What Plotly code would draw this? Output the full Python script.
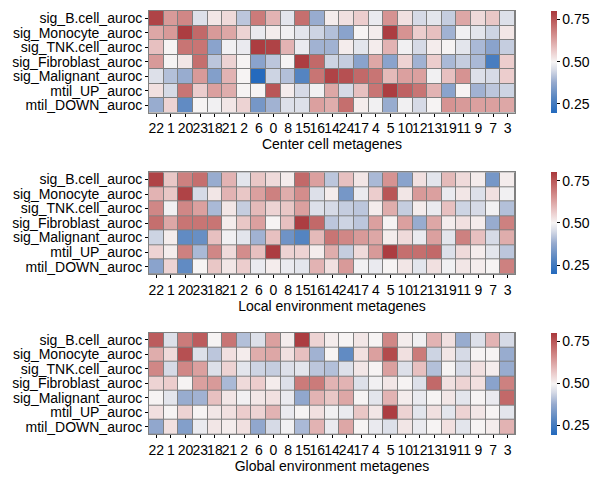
import plotly.graph_objects as go

columns = ["22", "1", "20", "23", "18", "21", "2", "6", "0", "8", "15", "16", "14",
           "24", "17", "4", "5", "10", "12", "13", "19", "11", "9", "7", "3"]
rows = ["sig_B.cell_auroc", "sig_Monocyte_auroc", "sig_TNK.cell_auroc",
        "sig_Fibroblast_auroc", "sig_Malignant_auroc", "mtil_UP_auroc", "mtil_DOWN_auroc"]
panel_titles = ["Center cell metagenes", "Local environment metagenes", "Global environment metagenes"]

center_values = [
    [0.78, 0.64, 0.67, 0.46, 0.52, 0.54, 0.42, 0.69, 0.60, 0.47, 0.71, 0.38, 0.51, 0.53, 0.56, 0.48, 0.65, 0.53, 0.45, 0.47, 0.43, 0.62, 0.54, 0.57, 0.46],
    [0.62, 0.64, 0.79, 0.72, 0.64, 0.62, 0.55, 0.48, 0.51, 0.49, 0.47, 0.44, 0.41, 0.36, 0.50, 0.51, 0.79, 0.65, 0.56, 0.58, 0.39, 0.49, 0.47, 0.44, 0.52],
    [0.58, 0.50, 0.70, 0.70, 0.36, 0.49, 0.48, 0.79, 0.78, 0.60, 0.48, 0.39, 0.39, 0.51, 0.47, 0.51, 0.60, 0.49, 0.45, 0.51, 0.50, 0.47, 0.40, 0.36, 0.43],
    [0.64, 0.50, 0.52, 0.71, 0.42, 0.55, 0.50, 0.36, 0.42, 0.50, 0.79, 0.72, 0.44, 0.43, 0.36, 0.62, 0.36, 0.55, 0.39, 0.56, 0.40, 0.43, 0.40, 0.26, 0.56],
    [0.46, 0.41, 0.38, 0.64, 0.35, 0.60, 0.50, 0.20, 0.44, 0.41, 0.28, 0.70, 0.78, 0.76, 0.72, 0.70, 0.59, 0.63, 0.63, 0.49, 0.58, 0.65, 0.46, 0.45, 0.56],
    [0.53, 0.45, 0.70, 0.56, 0.63, 0.61, 0.50, 0.50, 0.75, 0.51, 0.45, 0.49, 0.62, 0.45, 0.58, 0.70, 0.79, 0.73, 0.70, 0.60, 0.36, 0.50, 0.39, 0.42, 0.44],
    [0.38, 0.55, 0.30, 0.50, 0.49, 0.52, 0.55, 0.33, 0.39, 0.46, 0.46, 0.63, 0.61, 0.71, 0.51, 0.49, 0.38, 0.49, 0.45, 0.50, 0.65, 0.64, 0.63, 0.63, 0.62],
]

local_values = [
    [0.78, 0.57, 0.68, 0.71, 0.38, 0.60, 0.47, 0.57, 0.54, 0.51, 0.72, 0.63, 0.42, 0.58, 0.52, 0.40, 0.65, 0.36, 0.53, 0.47, 0.59, 0.54, 0.51, 0.33, 0.51],
    [0.60, 0.57, 0.78, 0.45, 0.52, 0.60, 0.57, 0.63, 0.68, 0.61, 0.66, 0.46, 0.51, 0.33, 0.48, 0.56, 0.75, 0.52, 0.64, 0.63, 0.48, 0.52, 0.46, 0.53, 0.49],
    [0.67, 0.49, 0.67, 0.63, 0.40, 0.52, 0.43, 0.59, 0.55, 0.57, 0.63, 0.46, 0.45, 0.43, 0.42, 0.51, 0.61, 0.43, 0.51, 0.48, 0.58, 0.44, 0.45, 0.49, 0.41],
    [0.71, 0.62, 0.70, 0.70, 0.70, 0.51, 0.57, 0.63, 0.50, 0.58, 0.79, 0.72, 0.42, 0.44, 0.42, 0.63, 0.50, 0.63, 0.38, 0.62, 0.51, 0.53, 0.51, 0.38, 0.68],
    [0.44, 0.51, 0.30, 0.31, 0.58, 0.49, 0.47, 0.39, 0.58, 0.32, 0.28, 0.59, 0.70, 0.67, 0.64, 0.62, 0.51, 0.54, 0.48, 0.63, 0.47, 0.68, 0.58, 0.45, 0.61],
    [0.55, 0.51, 0.68, 0.40, 0.67, 0.54, 0.66, 0.58, 0.79, 0.55, 0.55, 0.51, 0.61, 0.43, 0.54, 0.64, 0.79, 0.71, 0.71, 0.72, 0.46, 0.54, 0.51, 0.47, 0.42],
    [0.36, 0.55, 0.30, 0.50, 0.57, 0.52, 0.56, 0.48, 0.51, 0.48, 0.47, 0.60, 0.53, 0.64, 0.49, 0.48, 0.50, 0.52, 0.47, 0.53, 0.49, 0.52, 0.51, 0.50, 0.68],
]

global_values = [
    [0.74, 0.46, 0.69, 0.74, 0.50, 0.70, 0.41, 0.46, 0.63, 0.51, 0.79, 0.55, 0.51, 0.50, 0.52, 0.50, 0.67, 0.51, 0.49, 0.60, 0.53, 0.38, 0.46, 0.60, 0.45],
    [0.61, 0.54, 0.76, 0.46, 0.42, 0.53, 0.51, 0.61, 0.62, 0.53, 0.58, 0.39, 0.50, 0.30, 0.53, 0.63, 0.77, 0.53, 0.69, 0.44, 0.52, 0.45, 0.50, 0.50, 0.38],
    [0.67, 0.45, 0.67, 0.63, 0.46, 0.55, 0.47, 0.44, 0.43, 0.46, 0.47, 0.42, 0.41, 0.46, 0.52, 0.50, 0.63, 0.46, 0.58, 0.41, 0.50, 0.45, 0.53, 0.51, 0.38],
    [0.55, 0.56, 0.50, 0.63, 0.64, 0.40, 0.54, 0.56, 0.51, 0.46, 0.69, 0.69, 0.60, 0.60, 0.46, 0.49, 0.52, 0.50, 0.46, 0.72, 0.53, 0.55, 0.53, 0.36, 0.68],
    [0.50, 0.47, 0.38, 0.39, 0.58, 0.52, 0.49, 0.52, 0.53, 0.48, 0.37, 0.60, 0.57, 0.62, 0.50, 0.47, 0.60, 0.51, 0.48, 0.50, 0.52, 0.47, 0.50, 0.48, 0.72],
    [0.53, 0.50, 0.55, 0.50, 0.52, 0.53, 0.56, 0.55, 0.60, 0.48, 0.50, 0.53, 0.49, 0.48, 0.57, 0.52, 0.79, 0.55, 0.47, 0.53, 0.47, 0.55, 0.52, 0.50, 0.47],
    [0.37, 0.53, 0.35, 0.48, 0.52, 0.51, 0.53, 0.37, 0.45, 0.49, 0.40, 0.60, 0.48, 0.62, 0.50, 0.48, 0.46, 0.52, 0.48, 0.50, 0.53, 0.47, 0.50, 0.51, 0.60],
]

panels = [center_values, local_values, global_values]

vlag = [
    [0.0, "rgb(35,105,189)"],
    [0.15, "rgb(88,134,193)"],
    [0.3, "rgb(150,170,206)"],
    [0.42, "rgb(214,218,230)"],
    [0.5, "rgb(246,244,244)"],
    [0.6, "rgb(236,206,206)"],
    [0.75, "rgb(214,148,147)"],
    [0.88, "rgb(192,100,100)"],
    [1.0, "rgb(169,55,59)"],
]

W, H = 602, 485
x0, x1 = 149, 515
tops = [10, 172, 333]
hm_h = 102
font = dict(family="Liberation Sans, Arial, sans-serif", size=14, color="#000000")

fig = go.Figure()
layout = dict(
    width=W, height=H, margin=dict(l=0, r=0, t=0, b=0),
    paper_bgcolor="white", plot_bgcolor="#808080", font=font, showlegend=False,
)

for i, vals in enumerate(panels):
    sfx = "" if i == 0 else str(i + 1)
    ca = "coloraxis" + sfx
    fig.add_trace(go.Heatmap(
        z=vals, x=columns, y=rows, coloraxis=ca, xgap=1, ygap=1,
        xaxis="x" + sfx, yaxis="y" + sfx,
        hovertemplate="%{y}<br>%{x}: %{z:.2f}<extra></extra>",
    ))
    top = 1 - tops[i] / H
    bot = 1 - (tops[i] + hm_h) / H
    layout["xaxis" + sfx] = dict(
        domain=[x0 / W, x1 / W], anchor="y" + sfx, type="category",
        tickmode="array", tickvals=columns, ticktext=columns,
        ticks="outside", ticklen=3, tickwidth=1, tickcolor="#000",
        showline=True, mirror=True, linecolor="#808080", linewidth=1,
        showgrid=False, zeroline=False, tickangle=0,
        title=dict(text=panel_titles[i], standoff=3, font=font), tickfont=font,
    )
    layout["yaxis" + sfx] = dict(
        domain=[bot, top], anchor="x" + sfx, type="category", autorange="reversed",
        tickmode="array", tickvals=rows, ticktext=rows,
        ticks="outside", ticklen=3, tickwidth=1, tickcolor="#000",
        showline=True, mirror=True, linecolor="#808080", linewidth=1,
        showgrid=False, zeroline=False, tickfont=font,
    )
    layout[ca] = dict(
        colorscale=vlag, cmin=0.196, cmax=0.8,
        colorbar=dict(
            x=551 / W, xanchor="left", y=top, yanchor="top",
            len=hm_h / H, lenmode="fraction", thickness=6,
            outlinewidth=0, tickvals=[0.25, 0.5, 0.75], ticktext=["0.25", "0.50", "0.75"],
            ticks="outside", ticklen=3, tickcolor="#000", tickfont=font, xpad=0, ypad=0,
        ),
    )

fig.update_layout(**layout)
fig.write_html("out.html")
